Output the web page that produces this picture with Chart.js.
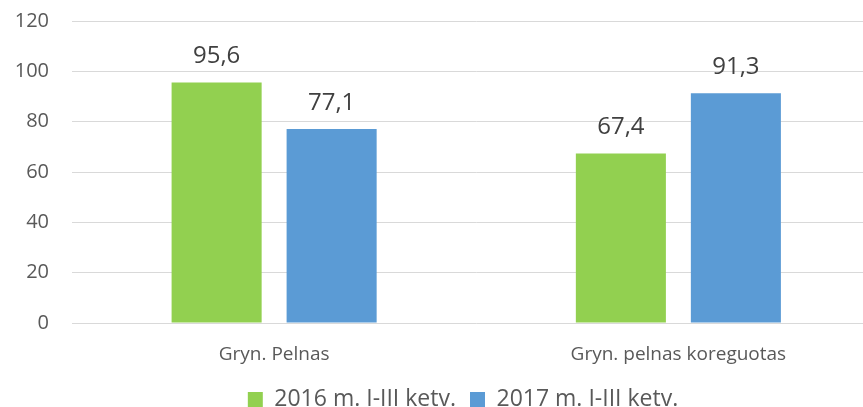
<!DOCTYPE html>
<html>
<head>
<meta charset="utf-8">
<script src="https://cdn.jsdelivr.net/npm/chart.js@4"></script>
<style>
  html, body { margin: 0; padding: 0; background: #fff; overflow: hidden; }
  #wrap { width: 926px; height: 435px; margin-top: -14px; position: relative; }
</style>
</head>
<body>
<div id="wrap"><canvas id="c"></canvas></div>
<script>
const categories = ["Gryn. Pelnas", "Gryn. pelnas koreguotas"];
const series2016 = [95.6, 67.4];
const series2017 = [77.1, 91.3];
const seriesNames = ["2016 m. I-III ketv.", "2017 m. I-III ketv."];
const yTicks = [0, 20, 40, 60, 80, 100, 120];

const FONT = "'Open Sans', 'Noto Sans', sans-serif";

const dataLabels = {
  id: 'dataLabels',
  afterDatasetsDraw(chart) {
    const ctx = chart.ctx;
    ctx.save();
    ctx.font = "24px " + FONT;
    ctx.fillStyle = "#404040";
    ctx.textAlign = "center";
    ctx.textBaseline = "alphabetic";
    chart.data.datasets.forEach((ds, i) => {
      const meta = chart.getDatasetMeta(i);
      meta.data.forEach((el, j) => {
        const v = ds.data[j];
        ctx.fillText(v.toFixed(1).replace('.', ','), el.x, el.y - 19);
      });
    });
    ctx.restore();
  }
};

new Chart(document.getElementById('c'), {
  type: 'bar',
  data: {
    labels: categories,
    datasets: [
      { label: seriesNames[0], data: series2016, backgroundColor: '#92D050', borderWidth: 0,
        categoryPercentage: 0.569, barPercentage: 0.783 },
      { label: seriesNames[1], data: series2017, backgroundColor: '#5B9BD5', borderWidth: 0,
        categoryPercentage: 0.569, barPercentage: 0.783 }
    ]
  },
  options: {
    responsive: true,
    maintainAspectRatio: false,
    animation: false,
    layout: { padding: { top: 9, right: 0, bottom: 0, left: 0 } },
    plugins: {
      legend: {
        position: 'bottom',
        labels: {
          font: { family: FONT, size: 23 },
          color: '#595959',
          boxWidth: 15,
          boxHeight: 15,
          padding: 14
        }
      },
      tooltip: { enabled: false }
    },
    scales: {
      x: {
        grid: { display: false },
        border: { display: false },
        ticks: { font: { family: FONT, size: 19 }, color: '#595959', padding: 12 },
        afterFit(scale) { scale.height = 51; }
      },
      y: {
        min: 0, max: 120,
        afterBuildTicks(scale) { scale.ticks = yTicks.map(v => ({ value: v })); },
        grid: { color: '#D9D9D9', lineWidth: 1, drawTicks: false },
        border: { display: false },
        ticks: { font: { family: FONT, size: 20 }, color: '#595959', padding: 23 },
        afterFit(scale) { scale.width = 72; }
      },
      yRight: {
        position: 'right',
        min: 0, max: 1,
        grid: { display: false, drawTicks: false },
        border: { display: false },
        ticks: { display: false },
        afterFit(scale) { scale.width = 45.5; }
      }
    }
  },
  plugins: [dataLabels]
});
</script>
</body>
</html>
